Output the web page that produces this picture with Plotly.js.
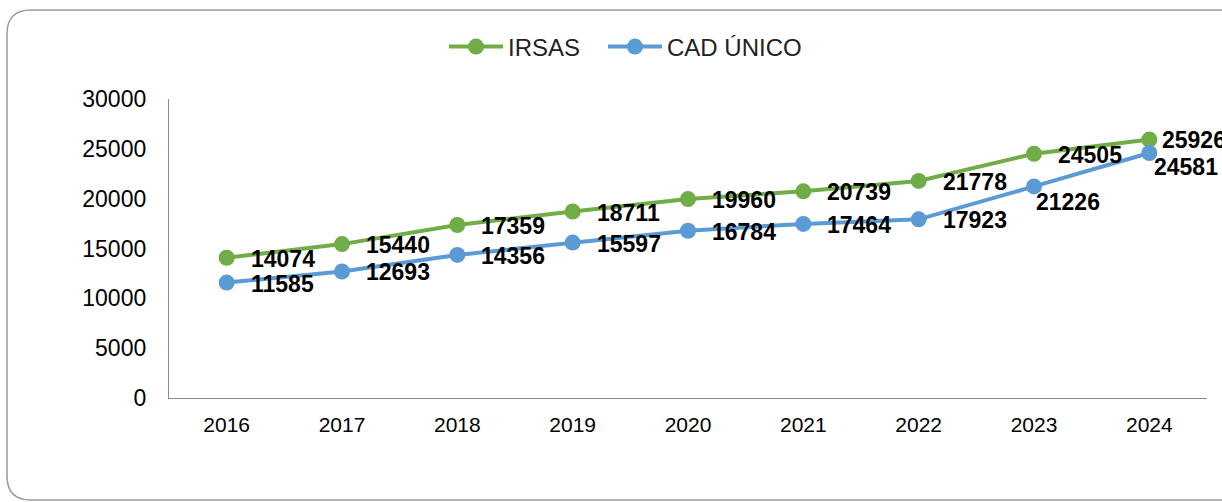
<!DOCTYPE html>
<html>
<head>
<meta charset="utf-8">
<script src="https://cdn.plot.ly/plotly-3.0.1.min.js"></script>
<style>
  html, body { margin: 0; padding: 0; background: #ffffff; overflow: hidden; }
  #chart { width: 1222px; height: 502px; }
</style>
</head>
<body>
<div id="chart"></div>
<script>
// ---- data ----
const years = [2016, 2017, 2018, 2019, 2020, 2021, 2022, 2023, 2024];
const irsas = [14074, 15440, 17359, 18711, 19960, 20739, 21778, 24505, 25926];
const cadUnico = [11585, 12693, 14356, 15597, 16784, 17464, 17923, 21226, 24581];
const seriesNames = ['IRSAS', 'CAD ÚNICO'];
const yTicks = [0, 5000, 10000, 15000, 20000, 25000, 30000];

// ---- style ----
const FONT = 'Liberation Sans, Arial, sans-serif';
const GREEN = '#70AD47';
const BLUE = '#5B9BD5';
const AXIS = '#8c8c8c';

// label placement (style only): default is "right"; a few labels were nudged in the original
function labelPlacement(seriesIdx, i) {
  if (seriesIdx === 0 && i === years.length - 1) return {xs: 11, ys: 0};
  if (seriesIdx === 1 && i === years.length - 2) return {xs: 0, ys: -16};
  if (seriesIdx === 1 && i === years.length - 1) return {xs: 3, ys: -14};
  return {xs: 22, ys: -1};
}

const traces = [irsas, cadUnico].map((vals, k) => ({
  type: 'scatter',
  mode: 'lines+markers',
  name: seriesNames[k],
  legend: k === 0 ? 'legend' : 'legend2',
  x: years,
  y: vals,
  line: {color: k === 0 ? GREEN : BLUE, width: 4},
  marker: {color: k === 0 ? GREEN : BLUE, size: 16},
  cliponaxis: false,
  hoverinfo: 'x+y'
}));

const annotations = [];
[irsas, cadUnico].forEach((vals, k) => {
  vals.forEach((v, i) => {
    const p = labelPlacement(k, i);
    annotations.push({
      x: years[i], y: v, xref: 'x', yref: 'y',
      text: '<b>' + v + '</b>',
      showarrow: false,
      xanchor: 'left', yanchor: 'middle',
      xshift: p.xs, yshift: p.ys,
      font: {family: FONT, size: 23, color: '#000000'}
    });
  });
});

// frame: only left, top and bottom edges are visible in the original (right edge is off-canvas)
const L = 169, R = 15, T = 99, B = 104, W = 1222, H = 502;
const pw = W - L - R, ph = H - T - B;
const px = v => ((v - L) / pw).toFixed(5);
const py = v => ((H - B - v) / ph).toFixed(5);
const r = 24, fx0 = 7, fy0 = 10, fx1 = W + 4, fy1 = 500;
const framePath =
  'M' + px(fx1) + ',' + py(fy0) +
  ' L' + px(fx0 + r) + ',' + py(fy0) +
  ' Q' + px(fx0) + ',' + py(fy0) + ' ' + px(fx0) + ',' + py(fy0 + r) +
  ' L' + px(fx0) + ',' + py(fy1 - r) +
  ' Q' + px(fx0) + ',' + py(fy1) + ' ' + px(fx0 + r) + ',' + py(fy1) +
  ' L' + px(fx1) + ',' + py(fy1);

const legendStyle = (leftPx) => ({
  orientation: 'h',
  x: (leftPx - L) / pw, xanchor: 'left',
  y: (H - B - 47) / ph, yanchor: 'middle',
  itemwidth: 54,
  font: {family: FONT, size: 24, color: '#222222'},
  bgcolor: 'rgba(0,0,0,0)'
});

const layout = {
  width: W, height: H,
  margin: {l: L, r: R, t: T, b: B},
  paper_bgcolor: '#ffffff',
  plot_bgcolor: '#ffffff',
  font: {family: FONT, size: 22, color: '#000000'},
  showlegend: true,
  legend: legendStyle(444),
  legend2: legendStyle(603),
  xaxis: {
    range: [years[0] - 0.5, years[years.length - 1] + 0.5],
    tickvals: years,
    ticktext: years.map(String),
    showgrid: false, zeroline: false,
    showline: true, linecolor: AXIS, linewidth: 1.3,
    ticks: '', ticklabelstandoff: 8,
    tickfont: {family: FONT, size: 21, color: '#000000'},
    fixedrange: true
  },
  yaxis: {
    range: [yTicks[0], yTicks[yTicks.length - 1]],
    tickvals: yTicks,
    ticktext: yTicks.map(String),
    showgrid: false, zeroline: false,
    showline: true, linecolor: AXIS, linewidth: 1.3,
    ticks: '', ticklabelstandoff: 17,
    tickfont: {family: FONT, size: 23, color: '#000000'},
    fixedrange: true
  },
  shapes: [{
    type: 'path', xref: 'paper', yref: 'paper', layer: 'below',
    path: framePath,
    line: {color: '#9a9a9a', width: 1.5},
    fillcolor: 'rgba(0,0,0,0)'
  }],
  annotations: annotations
};

Plotly.newPlot('chart', traces, layout, {displayModeBar: false, responsive: false});
</script>
</body>
</html>
